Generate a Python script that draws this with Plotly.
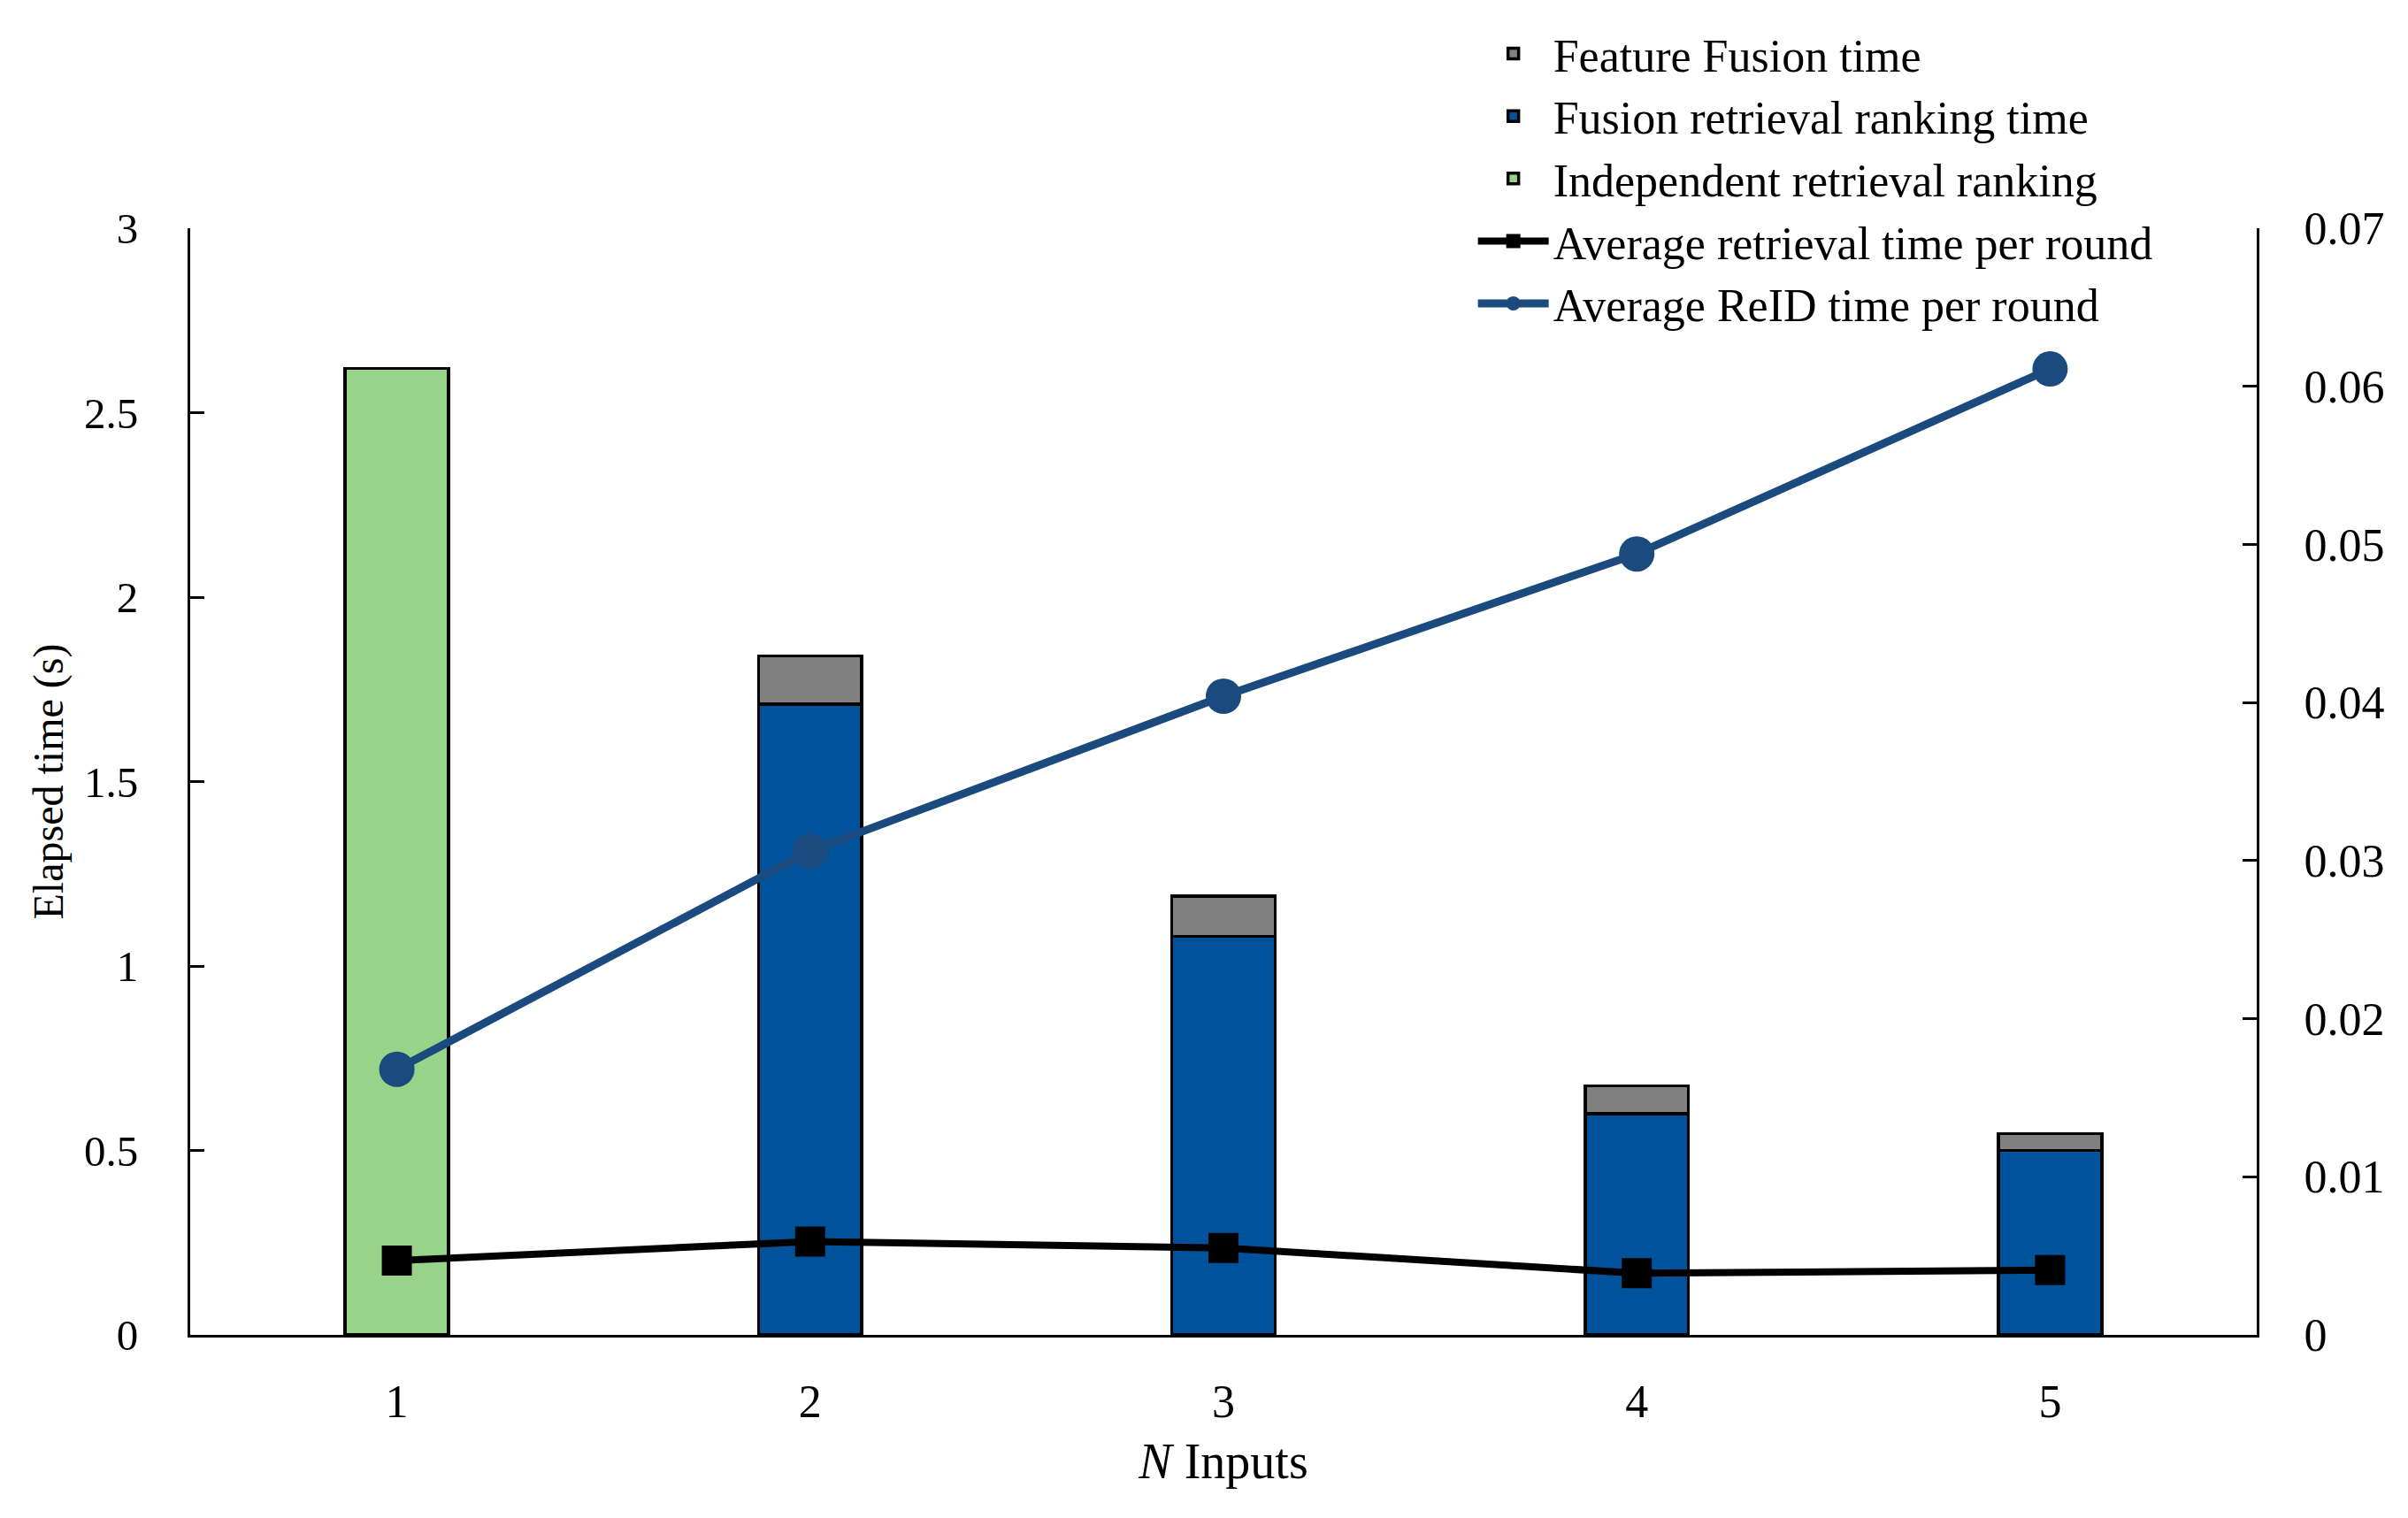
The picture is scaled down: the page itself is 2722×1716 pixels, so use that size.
import plotly.graph_objects as go

categories = ["1", "2", "3", "4", "5"]
independent_ranking = [2.62, None, None, None, None]
fusion_ranking = [None, 1.71, 1.08, 0.60, 0.50]
feature_fusion = [None, 0.13, 0.11, 0.075, 0.045]
avg_retrieval = [0.0047, 0.0059, 0.0055, 0.0039, 0.0041]
avg_reid = [0.0168, 0.0306, 0.0404, 0.0494, 0.0611]

left_ticks = [0, 0.5, 1, 1.5, 2, 2.5, 3]
left_labels = ["0", "0.5", "1", "1.5", "2", "2.5", "3"]
right_ticks = [0, 0.01, 0.02, 0.03, 0.04, 0.05, 0.06, 0.07]
right_labels = ["0", "0.01", "0.02", "0.03", "0.04", "0.05", "0.06", "0.07"]

FONT = "Liberation Serif"

fig = go.Figure()
fig.add_trace(go.Bar(x=categories, y=independent_ranking, name="Independent retrieval ranking",
                     marker=dict(color="#97D48A", line=dict(color="black", width=3.5)),
                     width=0.25, legendrank=3))
fig.add_trace(go.Bar(x=categories, y=fusion_ranking, name="Fusion retrieval ranking time",
                     marker=dict(color="#00529B", line=dict(color="black", width=3.5)),
                     width=0.25, legendrank=2))
fig.add_trace(go.Bar(x=categories, y=feature_fusion, name="Feature Fusion time",
                     marker=dict(color="#808080", line=dict(color="black", width=3.5)),
                     width=0.25, legendrank=1))
fig.add_trace(go.Scatter(x=categories, y=avg_retrieval, name="Average retrieval time per round",
                         mode="lines+markers", yaxis="y2",
                         line=dict(color="black", width=8),
                         marker=dict(symbol="square", size=34, color="black"),
                         legendrank=4))
fig.add_trace(go.Scatter(x=categories, y=avg_reid, name="Average ReID time per round",
                         mode="lines+markers", yaxis="y2",
                         line=dict(color="#1B4A7E", width=9),
                         marker=dict(symbol="circle", size=40, color="#1B4A7E"),
                         legendrank=5))

fig.update_layout(
    width=2722, height=1716,
    barmode="stack",
    paper_bgcolor="white", plot_bgcolor="white",
    font=dict(family=FONT, size=52, color="black"),
    margin=dict(l=207, r=179, t=246, b=215),
    showlegend=True,
    legend=dict(x=0.621, y=1.19, xanchor="left", yanchor="top",
                font=dict(family=FONT, size=52, color="black"),
                bgcolor="rgba(0,0,0,0)", itemwidth=80, tracegroupgap=0,
                traceorder="normal"),
    xaxis=dict(type="category", range=[-0.5, 4.5], showline=True, linecolor="black",
               linewidth=3, ticks="", showgrid=False, zeroline=False,
               tickfont=dict(family=FONT, size=52), ticklabelstandoff=28,
               title=dict(text="<i>N</i> Inputs", font=dict(family=FONT, size=56), standoff=20)),
    yaxis=dict(range=[0, 3], tickvals=left_ticks, ticktext=left_labels,
               showline=True, linecolor="black", linewidth=3,
               ticks="inside", ticklen=16, tickwidth=3, tickcolor="black",
               showgrid=False, zeroline=False, ticklabelstandoff=46,
               tickfont=dict(family=FONT, size=49),
               title=dict(text="Elapsed time (s)", font=dict(family=FONT, size=48), standoff=9)),
    yaxis2=dict(range=[0, 0.07], tickvals=right_ticks, ticktext=right_labels,
                overlaying="y", side="right", anchor="x",
                showline=True, linecolor="black", linewidth=3,
                ticks="inside", ticklen=16, tickwidth=3, tickcolor="black",
                showgrid=False, zeroline=False, ticklabelstandoff=40,
                tickfont=dict(family=FONT, size=52)),
)

fig.write_html("out.html")
